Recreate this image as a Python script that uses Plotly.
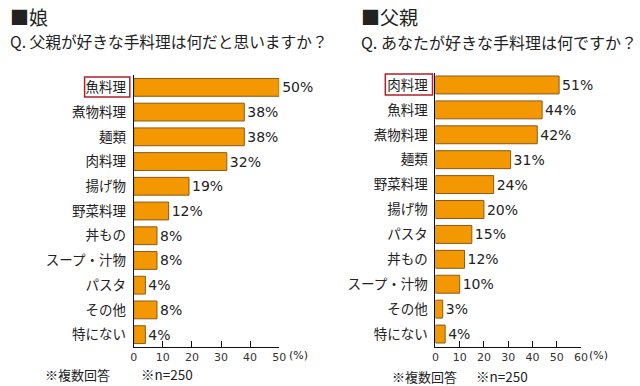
import plotly.graph_objects as go

W, H = 640, 386

left_cats = ["魚料理", "煮物料理", "麺類", "肉料理", "揚げ物", "野菜料理", "丼もの", "スープ・汁物", "パスタ", "その他", "特にない"]
left_vals = [50, 38, 38, 32, 19, 12, 8, 8, 4, 8, 4]

right_cats = ["肉料理", "魚料理", "煮物料理", "麺類", "野菜料理", "揚げ物", "パスタ", "丼もの", "スープ・汁物", "その他", "特にない"]
right_vals = [51, 44, 42, 31, 24, 20, 15, 12, 10, 3, 4]

left_ticks = [0, 10, 20, 30, 40, 50]
right_ticks = [0, 10, 20, 30, 40, 50, 60]

FONT = "Noto Sans CJK JP"
NUMFONT = "DejaVu Sans, Noto Sans CJK JP"
BAR = "#F39800"
EDGE = "#8A5A1C"

def px(x):
    return x / W

def py(y):
    return 1 - y / H

fig = go.Figure()
fig.add_trace(go.Bar(
    x=left_vals, y=left_cats, orientation="h", xaxis="x", yaxis="y",
    marker=dict(color=BAR, line=dict(color=EDGE, width=1)),
    text=[f"{v}%" for v in left_vals], textposition="outside",
    textfont=dict(size=14, color="#222", family=NUMFONT), cliponaxis=False,
    width=0.72, showlegend=False, hoverinfo="skip"))
fig.add_trace(go.Bar(
    x=right_vals, y=right_cats, orientation="h", xaxis="x2", yaxis="y2",
    marker=dict(color=BAR, line=dict(color=EDGE, width=1)),
    text=[f"{v}%" for v in right_vals], textposition="outside",
    textfont=dict(size=14, color="#222", family=NUMFONT), cliponaxis=False,
    width=0.72, showlegend=False, hoverinfo="skip"))

axis_common = dict(showgrid=False, zeroline=False, showline=True, linecolor="#111", linewidth=1,
                   ticks="inside", ticklen=6, tickcolor="#111",
                   tickfont=dict(size=11, color="#333", family=NUMFONT))

fig.update_layout(
    width=W, height=H, margin=dict(l=0, r=0, t=0, b=0),
    paper_bgcolor="white", plot_bgcolor="white",
    font=dict(family=FONT, color="#222"),
    xaxis=dict(domain=[px(132), px(280)], range=[0, 50], tickvals=left_ticks, anchor="y", **axis_common),
    yaxis=dict(domain=[py(347), py(75)], autorange="reversed", anchor="x", showgrid=False,
               showline=True, linecolor="#111", linewidth=1, ticks="", ticklabelstandoff=4,
               tickfont=dict(size=13.5, color="#222", family=FONT), categoryorder="array", categoryarray=left_cats),
    xaxis2=dict(domain=[px(439), px(587)], range=[0, 60], tickvals=right_ticks, anchor="y2", **axis_common),
    yaxis2=dict(domain=[py(346.5), py(72.5)], autorange="reversed", anchor="x2", showgrid=False,
                showline=True, linecolor="#111", linewidth=1, ticks="", ticklabelstandoff=4,
                tickfont=dict(size=13.5, color="#222", family=FONT), categoryorder="array", categoryarray=right_cats),
    bargap=0.28,
)

ann = [
    dict(text="■娘", x=px(4), y=py(16), size=19, font=FONT),
    dict(text="Q. 父親が好きな手料理は何だと思いますか？", x=px(4), y=py(42), size=15.7, font=FONT),
    dict(text="■父親", x=px(361), y=py(16), size=19, font=FONT),
    dict(text="Q. あなたが好きな手料理は何ですか？", x=px(361), y=py(42), size=16, font=FONT),
    dict(text="(%)", x=px(288), y=py(355), size=11, font=NUMFONT),
    dict(text="(%)", x=px(593), y=py(355), size=11, font=NUMFONT),
    dict(text="※複数回答", x=px(40), y=py(374), size=13, font=FONT),
    dict(text="※n=250", x=px(137), y=py(374), size=13.5, font=FONT),
    dict(text="※複数回答", x=px(393), y=py(376), size=13, font=FONT),
    dict(text="※n=250", x=px(478), y=py(376), size=13.5, font=FONT),
]
for a in ann:
    fig.add_annotation(text=a["text"], x=a["x"], y=a["y"], xref="paper", yref="paper",
                       xanchor="left", yanchor="middle", showarrow=False,
                       font=dict(size=a["size"], color="#222", family=a["font"]))

# red boxes around the highlighted first categories
fig.add_shape(type="rect", xref="paper", yref="paper", x0=px(82), x1=px(128), y0=py(97), y1=py(77),
              line=dict(color="#B0202A", width=1.5))
fig.add_shape(type="rect", xref="paper", yref="paper", x0=px(388), x1=px(436), y0=py(95), y1=py(74),
              line=dict(color="#B0202A", width=1.5))

fig.write_html("out.html", config={"displayModeBar": False},
               post_script="document.body.style.margin='0';document.body.style.overflow='hidden';")
